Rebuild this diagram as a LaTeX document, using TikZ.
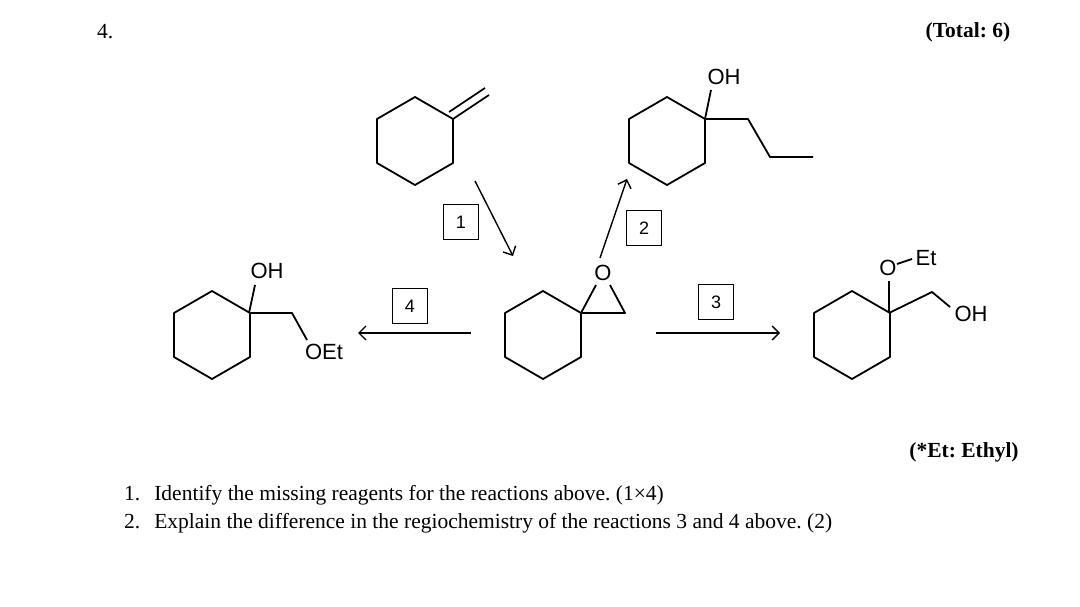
\documentclass[tikz,border=0pt]{standalone}
\usepackage{fontspec}
\usetikzlibrary{arrows.meta}
\setmainfont{Liberation Serif}
\newfontfamily\chem{Liberation Sans}
\frenchspacing
\begin{document}
\begin{tikzpicture}[x=1pt,y=-1pt,
  bond/.style={line width=1.8pt,line join=round},
  arr/.style={line width=1.4pt,-{Straight Barb[length=7pt]}},
  lab/.style={font=\chem\fontsize{22}{24}\selectfont,inner sep=0pt},
  numbox/.style={draw,line width=1.1pt,minimum width=35pt,minimum height=35pt,font=\chem\fontsize{18}{20}\selectfont},
  txt/.style={font=\fontsize{21.5}{24}\selectfont,inner sep=0pt,anchor=west}]
\useasboundingbox (0,0) rectangle (1080,607);
\newcommand{\hexring}[2]{\draw[bond] (#1,#2-44) -- (#1+38,#2-22) -- (#1+38,#2+22) -- (#1,#2+44) -- (#1-38,#2+22) -- (#1-38,#2-22) -- cycle;}
% top-left methylenecyclohexane
\hexring{415}{141}
\draw[bond] (453,119) -- (489,95);
\draw[bond] (449,112) -- (485,88);
% top-right alcohol
\hexring{667}{141}
\node[lab] (oh1) at (724,77) {OH};
\draw[bond] (705,119) -- (711,90);
\draw[bond] (705,119) -- (748,119) -- (770,157) -- (813,157);
% epoxide
\hexring{543}{335}
\node[lab] (o1) at (603,273) {O};
\draw[bond] (581,313) -- (596,285);
\draw[bond] (610,285) -- (625,313) -- (581,313);
% left product
\hexring{212}{335}
\node[lab] (oh2) at (267,271) {OH};
\draw[bond] (249,313) -- (255,285);
\draw[bond] (249,313) -- (292,313) -- (307,340);
\node[lab] (oet) at (324,352) {OEt};
% right product
\hexring{852}{335}
\node[lab] (o2) at (888,268) {O};
\draw[bond] (889,313) -- (889,281);
\node[lab] (et) at (926,258) {Et};
\draw[bond] (897,264) -- (912,259);
\draw[bond] (889,313) -- (932,292) -- (950,307);
\node[lab] (oh3) at (971,314) {OH};
% arrows
\coordinate (a1s) at (475,181); \coordinate (a1e) at (513,256);
\coordinate (a2s) at (600,258); \coordinate (a2e) at (627,179);
\coordinate (a4s) at (471,333); \coordinate (a4e) at (358,333);
\coordinate (a3s) at (656,333); \coordinate (a3e) at (780,333);
\draw[arr] (a1s) -- (a1e);
\draw[arr] (a2s) -- (a2e);
\draw[arr] (a4s) -- (a4e);
\draw[arr] (a3s) -- (a3e);
\node[numbox] (b1) at (461,222) {1};
\node[numbox] (b2) at (644,228) {2};
\node[numbox] (b4) at (410,306) {4};
\node[numbox] (b3) at (716,302) {3};
% texts
\node[txt] (q) at (97,32) {4.};
\node[font=\bfseries\fontsize{21.5}{24}\selectfont,inner sep=0pt] (tot) at (968,32) {(Total: 6)};
\node[font=\bfseries\fontsize{21.5}{24}\selectfont,inner sep=0pt] (eth) at (964,452) {(*Et: Ethyl)};
\node[txt] (l1) at (124,495) {1.\hspace{14pt}Identify the missing reagents for the reactions above. (1×4)};
\node[txt] (l2) at (124,523) {2.\hspace{14pt}Explain the difference in the regiochemistry of the reactions 3 and 4 above. (2)};
\end{tikzpicture}
\end{document}
